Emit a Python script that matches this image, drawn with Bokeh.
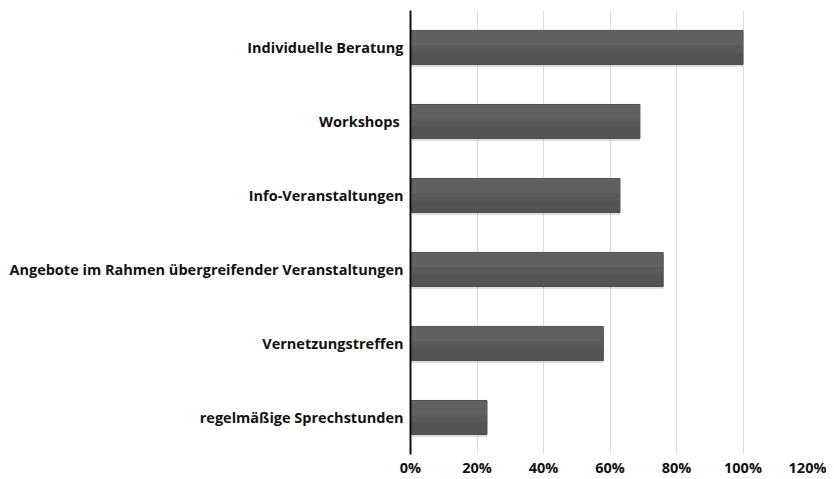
from bokeh.plotting import figure
from bokeh.models import ColumnDataSource, FixedTicker, NumeralTickFormatter
from bokeh.transform import dodge
from bokeh.embed import file_html
from bokeh.resources import INLINE

categories = [
    "Individuelle Beratung",
    "Workshops ",
    "Info-Veranstaltungen",
    "Angebote im Rahmen übergreifender Veranstaltungen",
    "Vernetzungstreffen",
    "regelmäßige Sprechstunden",
]
values = [1.00, 0.69, 0.63, 0.76, 0.58, 0.23]
x_ticks = [0, 0.2, 0.4, 0.6, 0.8, 1.0, 1.2]

src = ColumnDataSource(dict(cat=categories, val=values))

p = figure(
    width=826, height=479,
    y_range=list(reversed(categories)), x_range=(0, 1.2),
    output_backend="svg", toolbar_location=None,
    min_border_left=410, min_border_right=17, min_border_top=10, min_border_bottom=10,
)
p.outline_line_color = None

# soft shadow
p.hbar(y=dodge("cat", -0.03, range=p.y_range), right="val", left=0.004, height=0.47,
       source=src, fill_color="#000000", fill_alpha=0.12, line_color=None)
p.hbar(y="cat", right="val", left=0, height=0.46, source=src,
       fill_color="#545454", line_color="#4d4d4d", line_width=1)
# top highlight to hint the gradient
p.hbar(y=dodge("cat", 0.08, range=p.y_range), right="val", left=0, height=0.30,
       source=src, fill_color="#ffffff", fill_alpha=0.04, line_color=None)
p.hbar(y=dodge("cat", 0.13, range=p.y_range), right="val", left=0, height=0.20,
       source=src, fill_color="#ffffff", fill_alpha=0.04, line_color=None)

p.xaxis.ticker = FixedTicker(ticks=x_ticks)
p.xaxis.formatter = NumeralTickFormatter(format="0%")
p.xaxis.axis_line_color = None
p.xaxis.major_tick_line_color = None
p.xaxis.major_tick_out = 0
p.xaxis.major_tick_in = 0
p.xaxis.minor_tick_line_color = None
p.xaxis.major_label_standoff = 3

p.yaxis.axis_line_color = "#111111"
p.yaxis.axis_line_width = 2
p.yaxis.major_tick_line_color = None
p.yaxis.major_tick_out = 0
p.yaxis.major_tick_in = 0
p.yaxis.minor_tick_line_color = None
p.yaxis.major_label_standoff = 7

for ax in (p.xaxis, p.yaxis):
    ax.major_label_text_font = "Open Sans"
    ax.major_label_text_font_style = "bold"
    ax.major_label_text_font_size = "14.5px"
    ax.major_label_text_color = "#111111"

p.xgrid.grid_line_color = "#dcdcdc"
p.xgrid.grid_line_width = 1
p.ygrid.grid_line_color = None

open("out.html", "w").write(file_html(p, INLINE))
